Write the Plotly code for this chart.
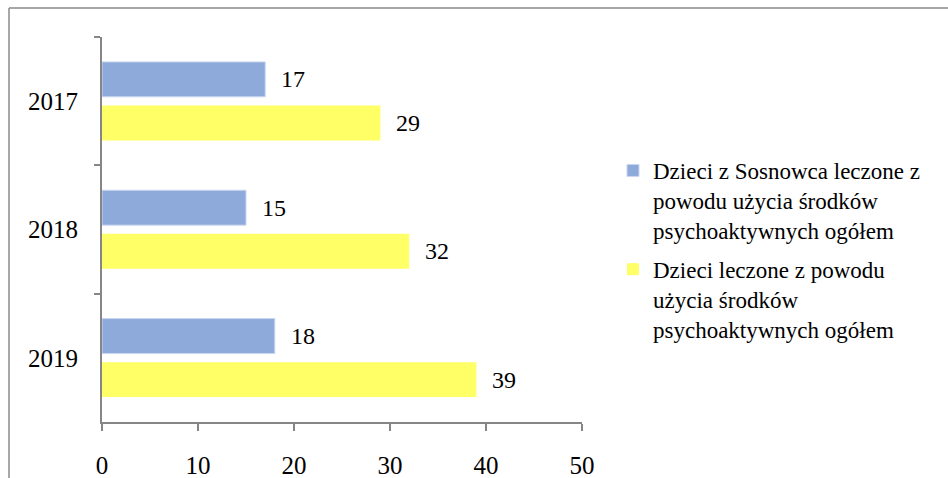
import plotly.graph_objects as go

years = ["2017", "2018", "2019"]
series_names = [
    "Dzieci z Sosnowca leczone z<br>powodu użycia środków<br>psychoaktywnych ogółem",
    "Dzieci leczone z powodu<br>użycia środków<br>psychoaktywnych ogółem",
]
sosnowiec = [17, 15, 18]
total = [29, 32, 39]
x_ticks = [0, 10, 20, 30, 40, 50]

FONT = "'Liberation Serif', 'Times New Roman', 'DejaVu Serif', serif"
BLUE = "#8EAADB"
YELLOW = "#FFFF66"
AXIS = "#868686"

fig = go.Figure()
fig.add_trace(go.Bar(
    y=years, x=sosnowiec, orientation="h", name=series_names[0],
    marker=dict(color=BLUE, line=dict(color="#C9D6EE", width=1)),
    legendgroup="a",
))
fig.add_trace(go.Bar(
    y=years, x=total, orientation="h", name=series_names[1],
    marker=dict(color=YELLOW, line=dict(width=0)),
    legendgroup="b",
))

for vals, off in ((sosnowiec, -0.17), (total, 0.17)):
    for i, (yr, v) in enumerate(zip(years, vals)):
        fig.add_annotation(
            x=v, y=i + off, xref="x", yref="y", text=str(v),
            showarrow=False, xanchor="left", yanchor="middle", xshift=14,
            font=dict(family=FONT, size=24, color="black"),
        )

W, H = 948, 478
L, R, T, B = 102, 366, 37, 56
pw, ph = W - L - R, H - T - B

def px_x(p):
    return (p - L) / pw

def px_y(p):
    return 1 - (p - T) / ph

fig.add_shape(type="line", xref="paper", yref="paper",
              x0=px_x(9), x1=px_x(960), y0=px_y(8), y1=px_y(8),
              line=dict(color="#8A8A8A", width=1.5))
fig.add_shape(type="line", xref="paper", yref="paper",
              x0=px_x(9), x1=px_x(9), y0=px_y(8), y1=px_y(490),
              line=dict(color="#8A8A8A", width=1.5))

fig.update_layout(
    width=W, height=H,
    margin=dict(l=L, r=R, t=T, b=B, pad=0, autoexpand=False),
    paper_bgcolor="white", plot_bgcolor="white",
    barmode="group", bargap=0.32, bargroupgap=0.2,
    font=dict(family=FONT, size=24, color="black"),
    showlegend=True,
    legend=dict(
        x=px_x(613), y=px_y(149), xanchor="left", yanchor="top",
        traceorder="grouped", tracegroupgap=6, valign="top",
        font=dict(family=FONT, size=23, color="black"),
        itemwidth=30, bgcolor="rgba(0,0,0,0)",
    ),
    xaxis=dict(
        range=[0, 50], tickvals=x_ticks, ticktext=[str(t) for t in x_ticks],
        showgrid=False, zeroline=False, automargin=False,
        showline=True, linecolor=AXIS, linewidth=2,
        ticks="outside", ticklen=7, tickwidth=2, tickcolor=AXIS,
        tickfont=dict(family=FONT, size=25, color="black"),
        ticklabelstandoff=13,
    ),
    yaxis=dict(
        type="category", categoryorder="array", categoryarray=years,
        autorange="reversed", tickson="boundaries", automargin=False,
        showgrid=False, zeroline=False,
        showline=True, linecolor=AXIS, linewidth=2,
        ticks="outside", ticklen=6, tickwidth=2, tickcolor=AXIS,
        tickfont=dict(family=FONT, size=25, color="black"),
        ticklabelstandoff=17,
    ),
)

fig.write_html("out.html", config={"displayModeBar": False},
               post_script="document.body.style.margin='0';")
